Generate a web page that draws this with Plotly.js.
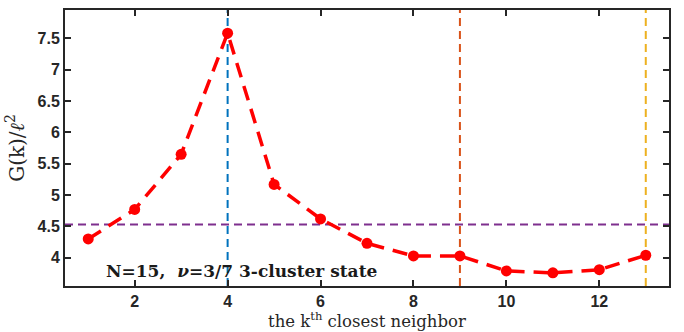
<!DOCTYPE html>
<html><head><meta charset="utf-8">
<script src="https://cdn.plot.ly/plotly-3.0.1.min.js"></script>
<style>html,body{margin:0;padding:0;background:#fff}#c{width:684px;height:332px}</style>
</head><body><div id="c"></div>
<script>
const kValues = [1,2,3,4,5,6,7,8,9,10,11,12,13];
const gValues = [4.30,4.77,5.65,7.58,5.17,4.62,4.23,4.03,4.03,3.79,3.76,3.81,4.04];
const hLineValue = 4.53;
const vLineKs = [4, 9, 13];
const vLineColors = ['#0072BD', '#D95319', '#EDB120'];
const xTicks = [2,4,6,8,10,12];
const yTicks = [4,4.5,5,5.5,6,6.5,7,7.5];
const xRange = [0.5, 13.5];
const yRange = [3.55, 7.95];

const traces = [];
traces.push({x: xRange, y: [hLineValue, hLineValue], mode: 'lines',
  line: {color: '#7E2F8E', width: 2, dash: '8px,5px'}, hoverinfo: 'skip'});
vLineKs.forEach((k, i) => traces.push({x: [k, k], y: yRange, mode: 'lines',
  line: {color: vLineColors[i], width: 2, dash: '8px,5px'}, hoverinfo: 'skip'}));
traces.push({x: kValues, y: gValues, mode: 'lines+markers',
  line: {color: '#FF0000', width: 3.5, dash: '15px,9px'},
  marker: {color: '#FF0000', size: 11}});

const tickFont = {family: 'Liberation Sans, Arial, sans-serif', size: 16, color: '#262626'};
const serif = 'DejaVu Serif, Liberation Serif, serif';
const layout = {
  width: 684, height: 332, showlegend: false,
  margin: {l: 65, r: 15, t: 10, b: 46},
  paper_bgcolor: '#fff', plot_bgcolor: '#fff',
  xaxis: {range: xRange, tickvals: xTicks, ticktext: xTicks.map(v => '<b>' + v + '</b>'),
    ticks: 'inside', ticklen: 6, tickwidth: 2,
    tickcolor: '#262626', showgrid: false, zeroline: false, showline: true, linewidth: 2,
    linecolor: '#262626', mirror: 'ticks', tickfont: tickFont},
  yaxis: {range: yRange, tickvals: yTicks, ticktext: yTicks.map(v => '<b>' + v + '</b>'),
    ticks: 'inside', ticklen: 6, tickwidth: 2,
    tickcolor: '#262626', showgrid: false, zeroline: false, showline: true, linewidth: 2,
    linecolor: '#262626', mirror: 'ticks', tickfont: tickFont,
    title: {text: 'G(k)/<i>ℓ</i><sup>2</sup>', standoff: 8,
      font: {family: serif, size: 20, color: '#262626'}}},
  annotations: [
    {xref: 'x', yref: 'y', x: 1.33, y: 3.785, xanchor: 'left', yanchor: 'middle',
      text: '<b>N=15,  <i>ν</i>=3/7 3-cluster state</b>', showarrow: false,
      font: {family: serif, size: 17, color: '#1a1a1a'}},
    {xref: 'paper', yref: 'paper', x: 0.5, y: -0.077, xanchor: 'center', yanchor: 'top',
      text: 'the k<sup>th</sup> closest neighbor', showarrow: false,
      font: {family: serif, size: 16.5, color: '#262626'}}
  ]
};
Plotly.newPlot('c', traces, layout, {staticPlot: true, displayModeBar: false});
</script></body></html>
